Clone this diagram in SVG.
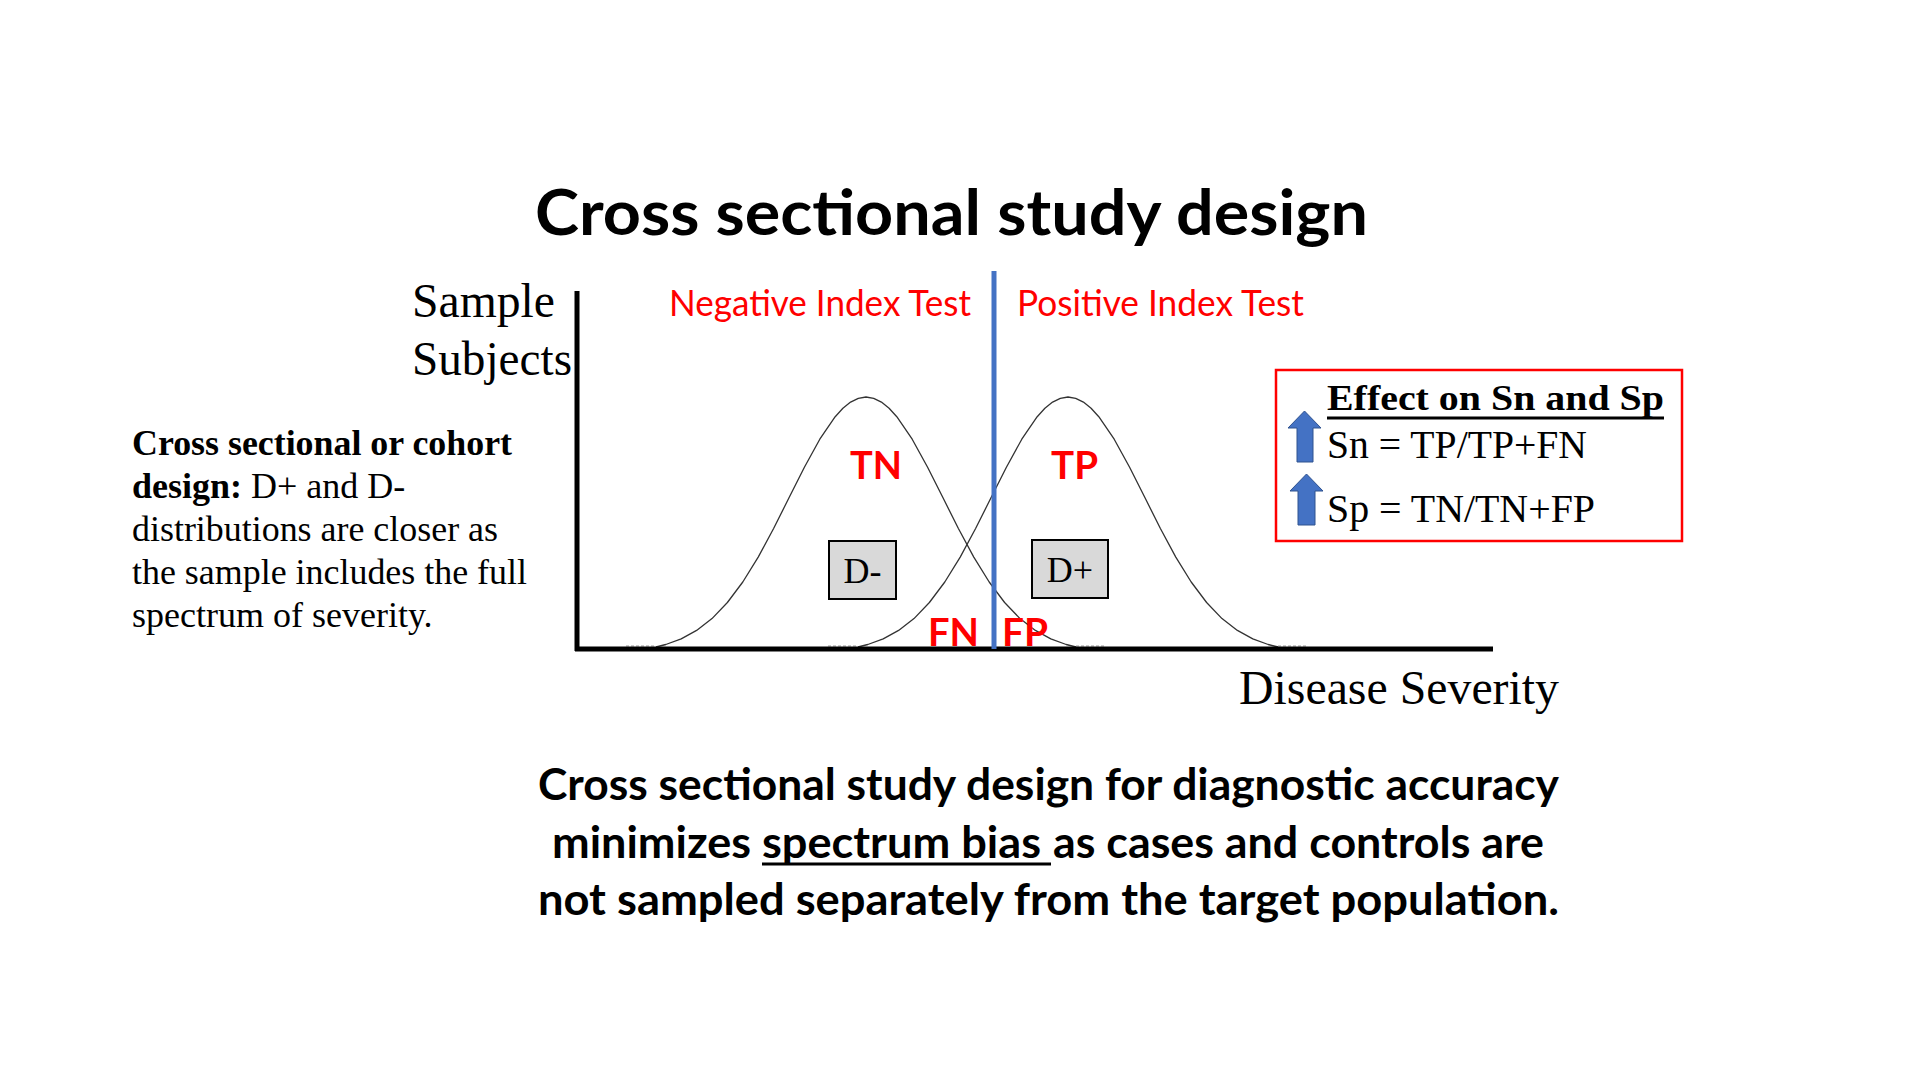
<svg xmlns="http://www.w3.org/2000/svg" xmlns:xlink="http://www.w3.org/1999/xlink" width="1920" height="1080" viewBox="0 0 1920 1080">
<style>
.sans{font-family:Lato,"Open Sans","Liberation Sans",sans-serif}
.serif{font-family:"Liberation Serif","Times New Roman",serif}
.b{font-weight:bold}
.red{fill:#FF0000}
.blk{fill:#000}
.curve{fill:none;stroke:#333;stroke-width:1.3;stroke-linejoin:round}
.tail{fill:none;stroke:#999;stroke-width:1;stroke-dasharray:3 2}
.axis{stroke:#000;stroke-width:5;fill:none}
.dbox{fill:#D9D9D9;stroke:#000;stroke-width:2}
.arrow{fill:#4472C4;stroke:#2F528F;stroke-width:1}
</style>
<defs>
<path id="bell" d="M-210,0 L-200.2,-2.5 L-184.8,-8.1 L-169.4,-16.6 L-154,-28.4 L-138.6,-44.5 L-123.2,-65 L-107.8,-89.9 L-92.4,-118.5 L-77,-149.2 L-61.6,-179.8 L-46.2,-207.8 L-30.8,-230.3 L-23.1,-238.7 L-15.4,-244.9 L-7.7,-248.7 L0,-250 L7.7,-248.7 L15.4,-244.9 L23.1,-238.7 L30.8,-230.3 L46.2,-207.8 L61.6,-179.8 L77,-149.2 L92.4,-118.5 L107.8,-89.9 L123.2,-65 L138.6,-44.5 L154,-28.4 L169.4,-16.6 L184.8,-8.1 L200.2,-2.5 L210,0"/>
<path id="tails" d="M-240,0 L-210,0 M210,0 L240,0"/>
</defs>
<rect width="1920" height="1080" fill="#fff"/>

<g id="title">
<text class="sans b blk" x="535" y="235" font-size="63" textLength="833" lengthAdjust="spacingAndGlyphs">Cross sectional study design</text>
</g>

<g id="y-label">
<text class="serif blk" x="412" y="317" font-size="48" textLength="143" lengthAdjust="spacingAndGlyphs">Sample</text>
<text class="serif blk" x="412" y="375" font-size="48" textLength="160" lengthAdjust="spacingAndGlyphs">Subjects</text>
</g>

<g id="x-label">
<text class="serif blk" x="1239" y="704" font-size="48" textLength="320" lengthAdjust="spacingAndGlyphs">Disease Severity</text>
</g>

<g id="side-note" class="serif blk" font-size="36">
<text x="132" y="455" class="b" textLength="380" lengthAdjust="spacingAndGlyphs">Cross sectional or cohort</text>
<text x="132" y="498"><tspan class="b">design:</tspan> D+ and D-</text>
<text x="132" y="541" textLength="366" lengthAdjust="spacingAndGlyphs">distributions are closer as</text>
<text x="132" y="584" textLength="395" lengthAdjust="spacingAndGlyphs">the sample includes the full</text>
<text x="132" y="627">spectrum of severity.</text>
</g>

<g id="curves">
<use xlink:href="#tails" href="#tails" class="tail" transform="translate(866,646)"/>
<use xlink:href="#tails" href="#tails" class="tail" transform="translate(1068,646)"/>
<use xlink:href="#bell" href="#bell" class="curve" transform="translate(866,647)"/>
<use xlink:href="#bell" href="#bell" class="curve" transform="translate(1068,647)"/>
</g>

<g id="connectors">
<line class="axis" x1="577" y1="291" x2="577" y2="651"/>
<line class="axis" x1="575" y1="649" x2="1493" y2="649"/>
<line x1="994" y1="271" x2="994" y2="649" stroke="#4472C4" stroke-width="5"/>
</g>

<g id="test-labels" class="sans red" font-size="36">
<text x="669" y="316" textLength="302" lengthAdjust="spacingAndGlyphs">Negative Index Test</text>
<text x="1017" y="316" textLength="287" lengthAdjust="spacingAndGlyphs">Positive Index Test</text>
</g>

<g id="outcome-labels" class="sans b red" font-size="39">
<text x="850" y="479" textLength="52" lengthAdjust="spacingAndGlyphs">TN</text>
<text x="1051" y="479" textLength="47" lengthAdjust="spacingAndGlyphs">TP</text>
<text x="928" y="646" textLength="51" lengthAdjust="spacingAndGlyphs">FN</text>
<text x="1002" y="646" textLength="46" lengthAdjust="spacingAndGlyphs">FP</text>
</g>

<g id="d-minus">
<rect class="dbox" x="829" y="541" width="67" height="58"/>
<text class="serif blk" x="862.5" y="583" font-size="36" text-anchor="middle">D-</text>
</g>

<g id="d-plus">
<rect class="dbox" x="1032" y="540" width="76" height="58"/>
<text class="serif blk" x="1070" y="582" font-size="36" text-anchor="middle">D+</text>
</g>

<g id="effect-box">
<rect x="1276" y="370" width="406" height="171" fill="none" stroke="#FF0000" stroke-width="2.5"/>
<text class="serif b blk" x="1327" y="410" font-size="36" textLength="337" lengthAdjust="spacingAndGlyphs">Effect on Sn and Sp</text>
<line x1="1327" y1="418" x2="1664" y2="418" stroke="#000" stroke-width="3"/>
<path class="arrow" d="M1304.5,411 L1321,428 L1313,428 L1313,462 L1297,462 L1297,428 L1288,428 Z"/>
<text class="serif blk" x="1327" y="458" font-size="39" textLength="260" lengthAdjust="spacingAndGlyphs">Sn = TP/TP+FN</text>
<path class="arrow" d="M1306.5,474 L1323,491 L1315,491 L1315,525 L1298,525 L1298,491 L1290,491 Z"/>
<text class="serif blk" x="1327" y="522" font-size="39" textLength="268" lengthAdjust="spacingAndGlyphs">Sp = TN/TN+FP</text>
</g>

<g id="conclusion" class="sans b blk" font-size="44">
<text x="538" y="800" textLength="1021" lengthAdjust="spacingAndGlyphs">Cross sectional study design for diagnostic accuracy</text>
<text x="552" y="858" textLength="199" lengthAdjust="spacingAndGlyphs">minimizes</text>
<text x="762" y="858" textLength="279" lengthAdjust="spacingAndGlyphs">spectrum bias</text>
<text x="1053" y="858" textLength="491" lengthAdjust="spacingAndGlyphs">as cases and controls are</text>
<line x1="762" y1="864" x2="1051" y2="864" stroke="#000" stroke-width="3"/>
<text x="538" y="915" textLength="1021" lengthAdjust="spacingAndGlyphs">not sampled separately from the target population.</text>
</g>
</svg>
